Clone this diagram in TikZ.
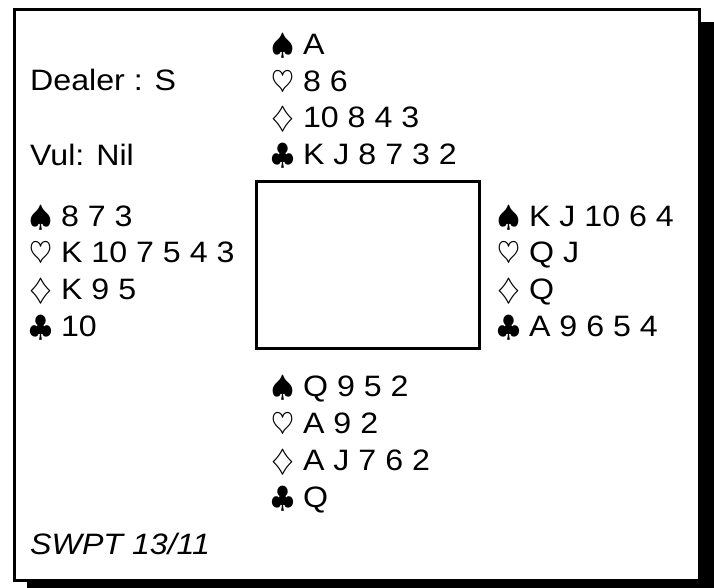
\RequirePackage{fix-cm}
\documentclass[tikz,border=0pt]{standalone}
\usepackage{fontspec}
\setmainfont[FakeStretch=1.09]{Liberation Sans}
\newcommand{\Sp}{$\spadesuit$}
\newcommand{\Hs}{$\heartsuit$}
\newcommand{\Di}{$\diamondsuit$}
\newcommand{\Cl}{$\clubsuit$}
\begin{document}
\begin{tikzpicture}[x=1pt,y=-1pt,
  txt/.style={anchor=base west, inner sep=0pt, font=\fontsize{29.5}{34}\selectfont},
  frame/.style={line width=3pt}]
\useasboundingbox (0,0) rectangle (714,588);
\fill[black] (27,22) rectangle (714,588);
\draw[frame, fill=white] (14.5,9.5) rectangle (699.5,580.5);
\node[draw, frame, minimum width=223pt, minimum height=167pt, inner sep=0pt] (table) at (368,265) {};
% info
\node[txt] (dealer) at (30,91) {Dealer : S};
\node[txt] (vul) at (30,165) {Vul: Nil};
\node[txt] (src) at (30,554) {\itshape SWPT 13/11};
% North
\node[txt] (ns) at (271,54.5) {\Sp{} A};
\node[txt] (nh) at (271,91.2) {\Hs{} 8 6};
\node[txt] (nd) at (271,128) {\Di{} 10 8 4 3};
\node[txt] (nc) at (271,164.7) {\Cl{} K J 8 7 3 2};
% West
\node[txt] (ws) at (29,226) {\Sp{} 8 7 3};
\node[txt] (wh) at (29,262.7) {\Hs{} K 10 7 5 4 3};
\node[txt] (wd) at (29,299.4) {\Di{} K 9 5};
\node[txt] (wc) at (29,336) {\Cl{} 10};
% East
\node[txt] (es) at (497,226) {\Sp{} K J 10 6 4};
\node[txt] (eh) at (497,262.7) {\Hs{} Q J};
\node[txt] (ed) at (497,299.4) {\Di{} Q};
\node[txt] (ec) at (497,336) {\Cl{} A 9 6 5 4};
% South
\node[txt] (ss) at (271,396) {\Sp{} Q 9 5 2};
\node[txt] (sh) at (271,433) {\Hs{} A 9 2};
\node[txt] (sd) at (271,470) {\Di{} A J 7 6 2};
\node[txt] (sc) at (271,507) {\Cl{} Q};
\end{tikzpicture}
\end{document}
